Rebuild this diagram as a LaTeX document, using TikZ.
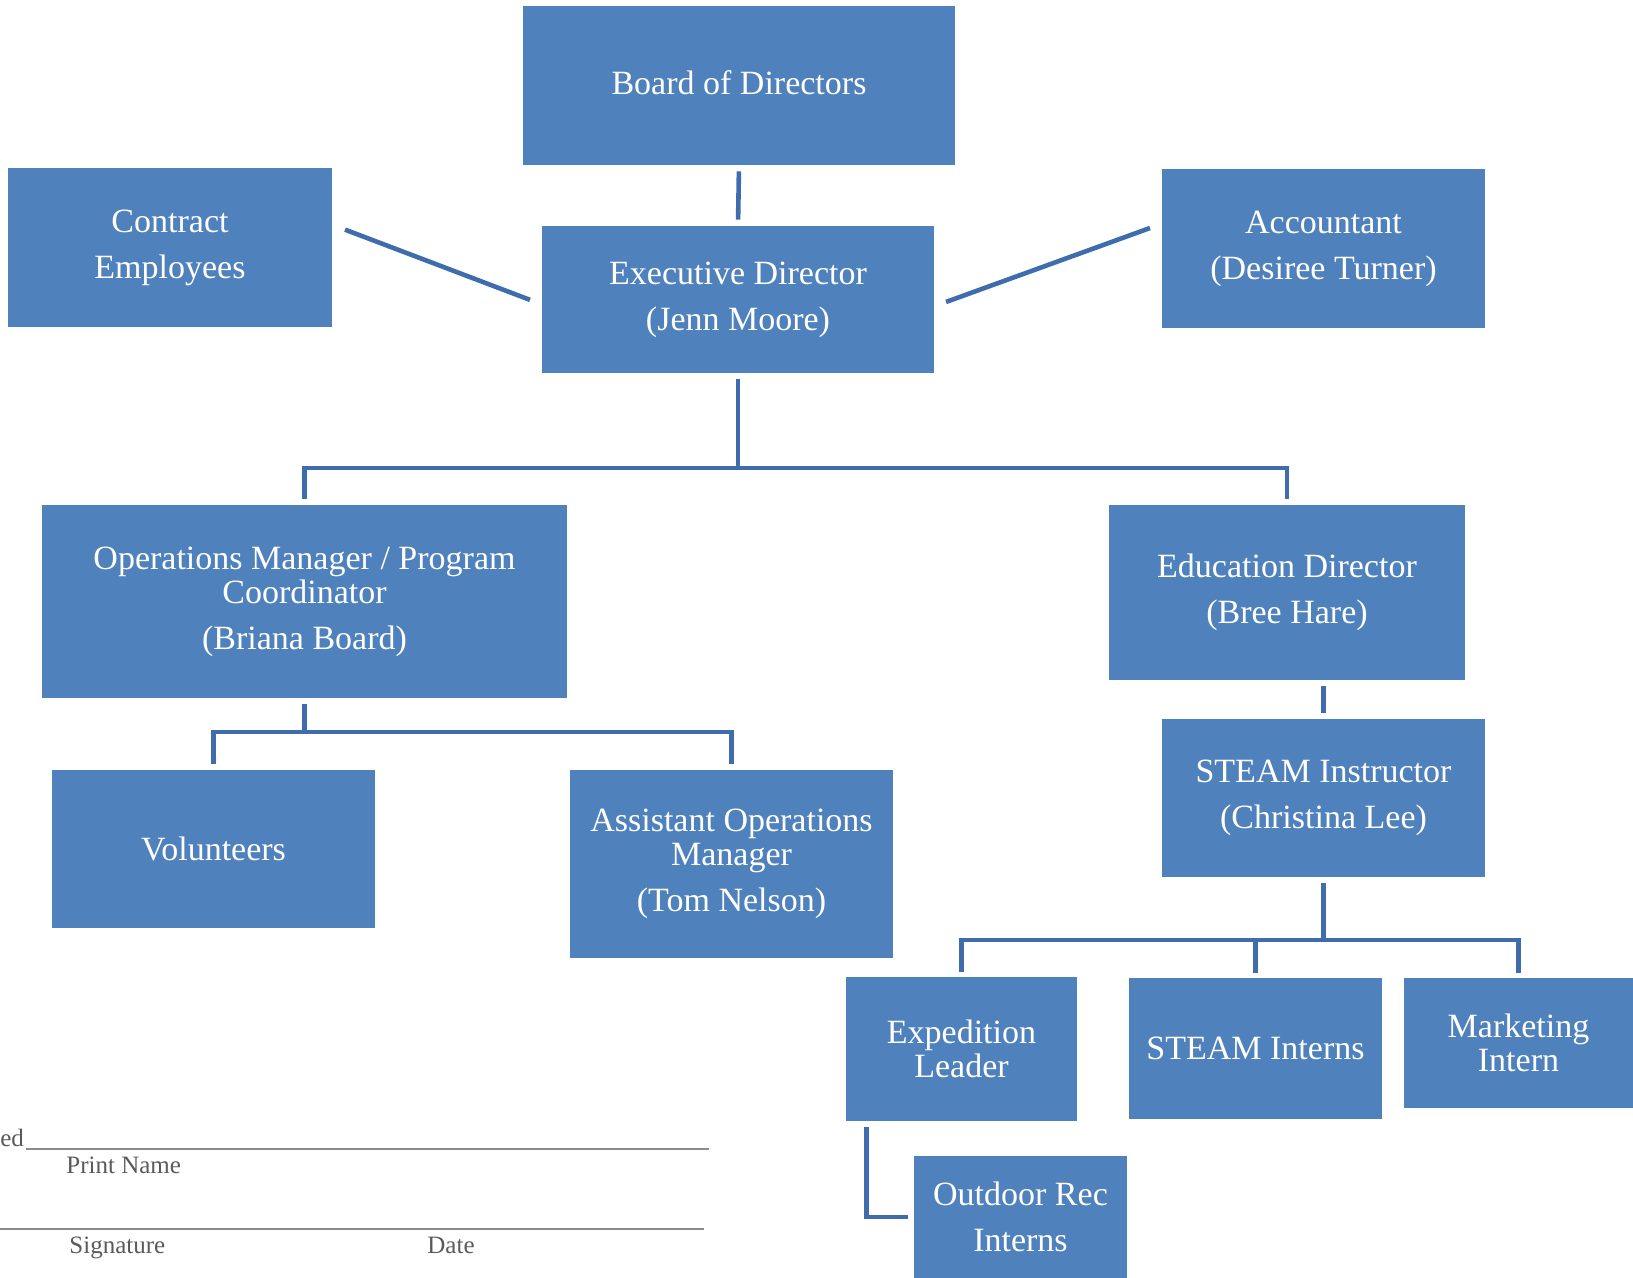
\documentclass[tikz,border=0pt]{standalone}
\usepackage{fontspec}
\setmainfont{Liberation Serif}
\usepackage{xcolor}
\definecolor{boxblue}{RGB}{79,129,189}
\definecolor{linec}{RGB}{63,108,172}
\definecolor{siggray}{RGB}{90,90,90}

\tikzset{
  box/.style={fill=boxblue, draw=none, text=white, align=center, inner sep=0pt,
              font=\fontsize{17}{17}\selectfont},
  conn/.style={draw=linec, line width=2.3pt, shorten <=3pt, shorten >=3pt},
  signline/.style={draw=gray!90, line width=1pt},
  sigtext/.style={text=siggray, anchor=base west, inner sep=0pt, font=\fontsize{12.5}{12.5}\selectfont}
}

\begin{document}
\begin{tikzpicture}[x=0.5pt,y=0.5pt,yscale=-1,xscale=1]
    \useasboundingbox (0,0) rectangle (1633,1278);

    %Shape: Rectangle [top row]
    \node[box, minimum width=216pt, minimum height=79.5pt] (board) at (739,85.5) {\raisebox{1.5pt}[\height][\depth]{Board of Directors}};
    \node[box, minimum width=162pt, minimum height=79.5pt] (contract) at (170,247.5) {Contract\\[6pt]Employees};
    \node[box, minimum width=196pt, minimum height=73.5pt] (exec) at (738,299.5) {Executive Director\\[6pt](Jenn Moore)};
    \node[box, minimum width=161.5pt, minimum height=79.5pt] (acct) at (1323.5,248.5) {Accountant\\[6pt](Desiree Turner)};

    %Shape: Rectangle [managers]
    \node[box, minimum width=262.5pt, minimum height=96.5pt] (ops) at (304.5,601.5) {Operations Manager / Program\\Coordinator\\[6pt](Briana Board)};
    \node[box, minimum width=178pt, minimum height=87.5pt] (edu) at (1287,592.5) {Education Director\\[6pt](Bree Hare)};
    \node[box, minimum width=161.5pt, minimum height=79pt] (steam) at (1323.5,798) {STEAM Instructor\\[6pt](Christina Lee)};

    %Shape: Rectangle [staff]
    \node[box, minimum width=161.5pt, minimum height=79pt] (vol) at (213.5,849) {Volunteers};
    \node[box, minimum width=161.5pt, minimum height=94pt] (asst) at (731.5,864) {Assistant Operations\\Manager\\[6pt](Tom Nelson)};
    \node[box, minimum width=115.5pt, minimum height=72pt] (exped) at (961.5,1049) {Expedition\\Leader};
    \node[box, minimum width=126.5pt, minimum height=70.5pt] (interns) at (1255.5,1048.5) {STEAM Interns};
    \node[box, minimum width=114.5pt, minimum height=65pt] (mkt) at (1518.5,1043) {Marketing\\Intern};
    \node[box, minimum width=106.5pt, minimum height=61pt] (outdoor) at (1020.5,1217) {Outdoor Rec\\[6pt]Interns};

    % connectors
    \coordinate (split1) at (738,468);
    \coordinate (split2) at (304.5,732);
    \coordinate (split3) at (1323.5,940);
    \draw[conn] (board.south) -- (exec.north);
    \draw[conn] ([shift={(3.5pt,-10pt)}]contract.east) -- ([shift={(-3pt,1.25pt)}]exec.west);
    \draw[conn] ([shift={(3pt,2.25pt)}]exec.east) -- ([shift={(-3pt,-11.25pt)}]acct.west);
    \draw[conn, shorten >=0pt] (exec.south) -- (split1);
    \draw[conn] (ops.north) |- (split1) -| (edu.north);
    \draw[conn, shorten >=0pt] (ops.south) -- (split2);
    \draw[conn] (vol.north) |- (split2) -| (asst.north);
    \draw[conn] (steam.north |- edu.south) -- (steam.north);
    \draw[conn, shorten >=0pt] (steam.south) -- (split3);
    \draw[conn, shorten <=2.5pt, shorten >=2.5pt] (exped.north) |- (split3) -| (mkt.north);
    \draw[conn, shorten <=2.5pt, shorten >=0pt] (interns.north) -- (interns.north |- split3);
    \draw[conn] ([xshift=10.5pt]exped.south west) |- (outdoor.west);

    % Text Node [signature block]
    \node[sigtext] (ed) at (0,1146) {ed};
    \draw[signline] (26,1149) -- (709,1149);
    \node[sigtext] (printname) at (66,1173) {Print Name};
    \draw[signline] (0,1229) -- (704,1229);
    \node[sigtext] (signature) at (69,1253) {Signature};
    \node[sigtext] (date) at (427,1253) {Date};

\end{tikzpicture}
\end{document}
